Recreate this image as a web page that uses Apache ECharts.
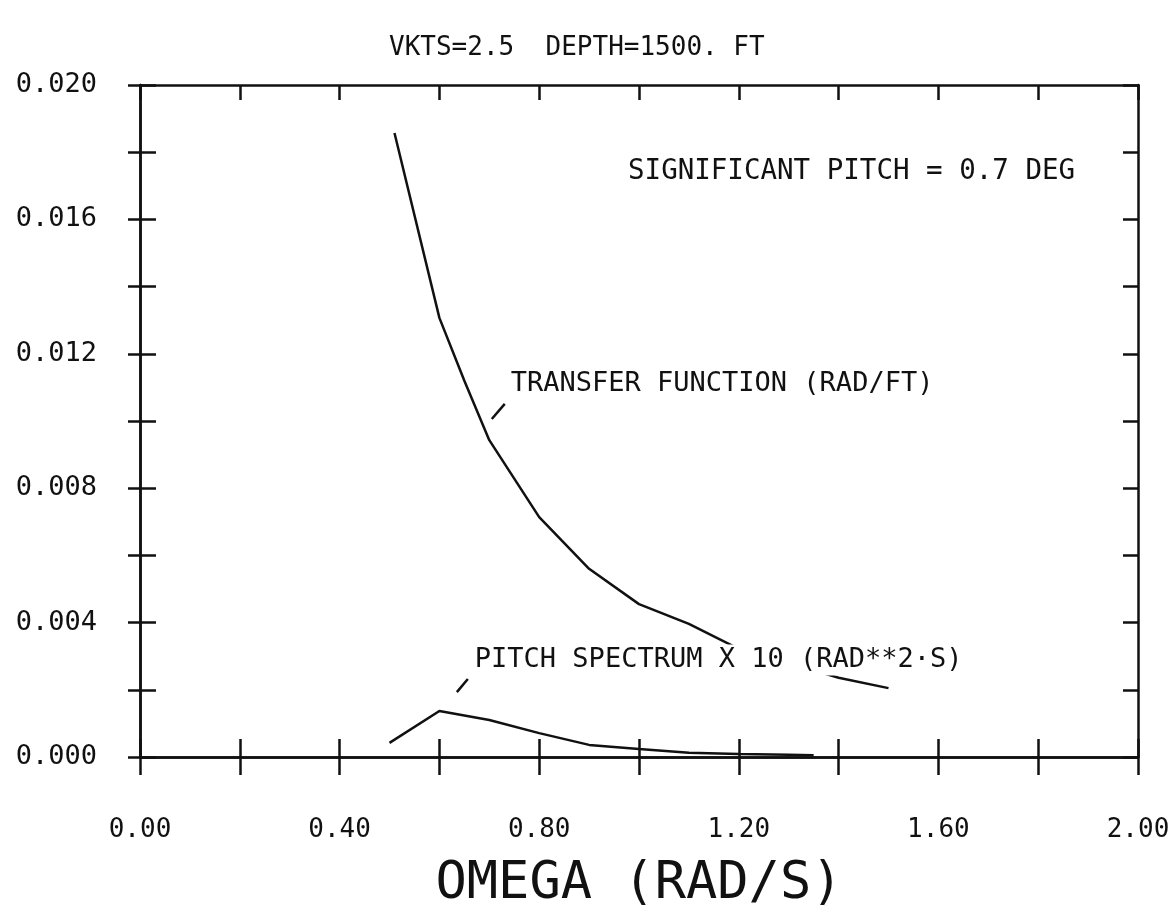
<!DOCTYPE html>
<html>
<head>
<meta charset="utf-8">
<script src="https://cdn.jsdelivr.net/npm/echarts@6/dist/echarts.min.js"></script>
<style>
html,body{margin:0;padding:0;background:#fff;}
#chart{width:1176px;height:918px;}
</style>
</head>
<body>
<div id="chart"></div>
<script>
// ---- data ----
const tfOmega = [0.51, 0.60, 0.65, 0.70, 0.80, 0.90, 1.00, 1.10, 1.20, 1.30, 1.40, 1.50];
const tfValue = [0.01857, 0.01307, 0.01120, 0.00943, 0.00714, 0.00560, 0.00455, 0.00396, 0.00322, 0.00280, 0.00236, 0.00205];
const psOmega = [0.50, 0.60, 0.70, 0.80, 0.90, 1.00, 1.10, 1.20, 1.30, 1.35];
const psValue = [0.00042, 0.00137, 0.00110, 0.00071, 0.00036, 0.00024, 0.00013, 0.00009, 0.00007, 0.00005];
const xTickLabels = ['0.00', '0.40', '0.80', '1.20', '1.60', '2.00'];
const yTickLabels = ['0.000', '0.004', '0.008', '0.012', '0.016', '0.020'];
const titleText = 'VKTS=2.5  DEPTH=1500. FT';
const xName = 'OMEGA (RAD/S)';
const tfLabel = 'TRANSFER FUNCTION (RAD/FT)';
const psLabel = 'PITCH SPECTRUM X 10 (RAD**2\u00B7S)';
const sigLabel = 'SIGNIFICANT PITCH = 0.7 DEG';
// annotation anchors (data units)
const tfLabelAt = [0.735, 0.0111];
const psLabelAt = [0.663, 0.00289];
const sigLabelAt = [0.970, 0.01741];
const tfLeader = [[0.705, 0.01006], [0.731, 0.01051]];
const psLeader = [[0.635, 0.00193], [0.657, 0.00232]];

const FONT = '"DejaVu Sans Mono", monospace';
const INK = '#111';

function xFmt(v) {
  const k = Math.round(v * 10);
  return (k % 4 === 0) ? xTickLabels[k / 4] : '';
}
function yFmt(v) {
  const k = Math.round(v / 0.002);
  return (k % 2 === 0) ? yTickLabels[k / 2] : '';
}
function pairs(xs, ys) { return xs.map((x, i) => [x, ys[i]]); }

const LW = 2.5;
const baseX = {type: 'value', min: 0, max: 2, interval: 0.2, splitLine: {show: false},
  axisLine: {show: true, onZero: false, lineStyle: {color: INK, width: LW}}};
const baseY = {type: 'value', min: 0, max: 0.02, interval: 0.002, splitLine: {show: false},
  axisLine: {show: true, onZero: false, lineStyle: {color: INK, width: LW}}};

const labelStyle = (txt, at, size) => ({
  coord: at, symbolSize: 0,
  label: {show: true, formatter: txt, position: 'right', distance: 0, color: INK,
    fontFamily: FONT, fontSize: size, backgroundColor: '#fff', padding: [2, 4]}
});

const option = {
  animation: false,
  backgroundColor: '#fff',
  title: {text: titleText, left: 384, top: 30,
    textStyle: {fontFamily: FONT, fontSize: 26, fontWeight: 'normal', color: INK}},
  grid: {left: 140, right: 38, top: 85, bottom: 161},
  xAxis: [
    Object.assign({}, baseX, {position: 'bottom',
      axisTick: {show: true, inside: true, length: 18, lineStyle: {color: INK, width: LW}},
      axisLabel: {formatter: xFmt, margin: 60, color: INK, fontFamily: FONT, fontSize: 26},
      name: xName, nameLocation: 'middle', nameGap: 101,
      nameTextStyle: {fontFamily: FONT, fontSize: 52, color: INK}}),
    Object.assign({}, baseX, {position: 'bottom',
      axisTick: {show: true, inside: false, length: 18, lineStyle: {color: INK, width: LW}},
      axisLabel: {show: false}}),
    Object.assign({}, baseX, {position: 'top',
      axisTick: {show: true, inside: true, length: 15, lineStyle: {color: INK, width: LW}},
      axisLabel: {show: false}})
  ],
  yAxis: [
    Object.assign({}, baseY, {position: 'left',
      axisTick: {show: true, inside: true, length: 16, lineStyle: {color: INK, width: LW}},
      axisLabel: {formatter: yFmt, margin: 43, color: INK, fontFamily: FONT, fontSize: 27}}),
    Object.assign({}, baseY, {position: 'left',
      axisTick: {show: true, inside: false, length: 12, lineStyle: {color: INK, width: LW}},
      axisLabel: {show: false}}),
    Object.assign({}, baseY, {position: 'right',
      axisTick: {show: true, inside: true, length: 15, lineStyle: {color: INK, width: LW}},
      axisLabel: {show: false}})
  ],
  series: [
    {
      name: 'tf', type: 'line', xAxisIndex: 0, yAxisIndex: 0,
      data: pairs(tfOmega, tfValue), showSymbol: false, symbol: 'none',
      lineStyle: {color: INK, width: LW}, z: 2,
      markPoint: {symbol: 'circle', symbolSize: 0, silent: true,
        data: [labelStyle(tfLabel, tfLabelAt, 27), labelStyle(sigLabel, sigLabelAt, 27.5)]},
      markLine: {symbol: 'none', silent: true, lineStyle: {color: INK, width: LW, type: 'solid'},
        label: {show: false},
        data: [[{coord: tfLeader[0]}, {coord: tfLeader[1]}]]}
    },
    {
      name: 'ps', type: 'line', xAxisIndex: 0, yAxisIndex: 0,
      data: pairs(psOmega, psValue), showSymbol: false, symbol: 'none',
      lineStyle: {color: INK, width: LW}, z: 2,
      markPoint: {symbol: 'circle', symbolSize: 0, silent: true,
        data: [labelStyle(psLabel, psLabelAt, 27)]},
      markLine: {symbol: 'none', silent: true, lineStyle: {color: INK, width: LW, type: 'solid'},
        label: {show: false},
        data: [[{coord: psLeader[0]}, {coord: psLeader[1]}]]}
    }
  ]
};

const chart = echarts.init(document.getElementById('chart'), null, {renderer: 'canvas'});
chart.setOption(option);
</script>
</body>
</html>
